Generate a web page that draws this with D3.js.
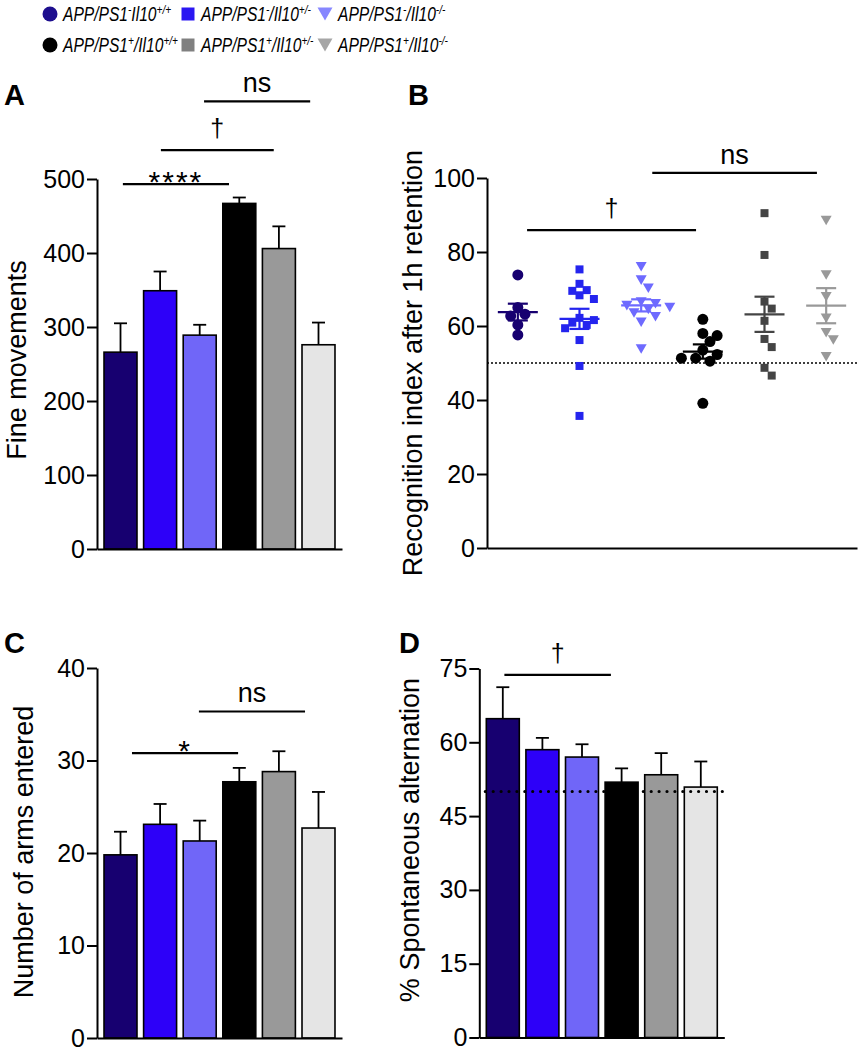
<!DOCTYPE html>
<html><head><meta charset="utf-8">
<script src="https://cdn.jsdelivr.net/npm/d3@7"></script>
<style>
body{margin:0;background:#fff;}
svg text{font-family:"Liberation Sans",Arial,Helvetica,sans-serif;fill:#000;}
</style></head><body>
<svg id="chart" width="860" height="1050"></svg>
<script>
// ---------------- data ----------------
const groups = ["APP/PS1-/Il10+/+","APP/PS1-/Il10+/-","APP/PS1-/Il10-/-","APP/PS1+/Il10+/+","APP/PS1+/Il10+/-","APP/PS1+/Il10-/-"];
const legendLabels = [
  [["APP/PS1",0],["-",1],["Il10",0],["+/+",1]],
  [["APP/PS1",0],["-",1],["/Il10",0],["+/-",1]],
  [["APP/PS1",0],["-",1],["/Il10",0],["-/-",1]],
  [["APP/PS1",0],["+",1],["/Il10",0],["+/+",1]],
  [["APP/PS1",0],["+",1],["/Il10",0],["+/-",1]],
  [["APP/PS1",0],["+",1],["/Il10",0],["-/-",1]]
];
const barColors = ["#170070","#2d00f8","#7066f8","#000000","#999999","#e5e5e5"];
const pointColors = ["#170070","#2424ee","#6e6aff","#000000","#444444","#999999"];
const legendColors = ["#1d0e8e","#2b17f2","#8787ff","#000000","#808080","#a6a6a6"];
const shapes = ["circle","square","triangle","circle","square","triangle"];

const fineMovements = [266, 349, 289, 467, 406, 276];
const fineMovementsSEM = [39, 26, 14, 8, 30, 30];
const fineTicks = [0,100,200,300,400,500];

const recognition = [
  [73.8, 65.0, 63.2, 62.7, 60.3, 57.6],
  [75.3, 71.4, 69.7, 69.5, 68.3, 67.3, 62.2, 61.6, 60.9, 60.3, 59.4, 56.2, 49.2, 35.7],
  [76.0, 72.4, 70.2, 66.5, 66.0, 65.5, 65.0, 64.5, 63.5, 62.5, 61.0, 53.8],
  [61.8, 58.0, 57.4, 55.8, 53.5, 52.3, 51.3, 51.3, 50.5, 39.1],
  [90.5, 79.2, 66.6, 64.7, 61.4, 56.5, 54.3, 48.7, 46.6],
  [88.5, 73.8, 67.9, 62.1, 58.2, 56.2, 51.7]
];
const recogTicks = [0,20,40,60,80,100];

const armsEntered = [19.8, 23.1, 21.3, 27.7, 28.8, 22.7];
const armsSEM = [2.5, 2.2, 2.2, 1.5, 2.2, 3.9];
const armsTicks = [0,10,20,30,40];

const alternation = [64.8, 58.5, 57.0, 51.9, 53.4, 50.9];
const alternationSEM = [6.4, 2.4, 2.6, 2.8, 4.4, 5.2];
const altTicks = [0,15,30,45,60,75];

// significance brackets: [from group pos, to group pos, value level, label]
const sigA = [[0.06,2.74,493,"****"],[1.02,3.87,539,"†"],[2.11,4.79,605,"ns"]];
const sigB = [[0.15,2.89,85.9,"†"],[2.18,4.85,101.4,"ns"]];
const sigC = [[0.29,2.97,30.8,"*"],[1.98,4.66,35.3,"ns"]];
const sigD = [[0.04,2.73,73.7,"†"]];

// ---------------- drawing ----------------
const svg = d3.select("#chart");

function symbolPath(shape, size){
  if(shape==="circle") return d3.symbol(d3.symbolCircle, Math.PI*size*size/4)();
  if(shape==="square") return d3.symbol(d3.symbolSquare, size*size)();
  const h = size*0.87, w = size;
  return `M${-w/2},${-h/2}L${w/2},${-h/2}L0,${h/2}Z`;
}

function yAxis(g, y, ticks, x0){
  const ax = g.append("g").attr("transform",`translate(${x0},0)`)
    .call(d3.axisLeft(y).tickValues(ticks).tickSize(10).tickSizeOuter(0).tickPadding(2));
  ax.select(".domain").attr("stroke","#000").attr("stroke-width",2);
  ax.selectAll(".tick line").attr("stroke","#000").attr("stroke-width",2);
  ax.selectAll(".tick text").attr("font-size",25).attr("fill","#000")
    .style("font-family","'Liberation Sans',Arial,sans-serif");
  return ax;
}
function xAxis(g, x, y0){
  const ax = g.append("g").attr("transform",`translate(0,${y0})`)
    .call(d3.axisBottom(x).tickSize(0).tickSizeOuter(0).tickFormat(""));
  ax.select(".domain").attr("stroke","#000").attr("stroke-width",2);
}
function title(g, text, x, yc){
  g.append("text").attr("transform",`translate(${x},${yc}) rotate(-90)`)
    .attr("text-anchor","middle").attr("font-size",27).text(text);
}
function panelLabel(g, text, x, y){
  g.append("text").attr("x",x).attr("y",y).attr("font-size",29).attr("font-weight","bold").text(text);
}
function sig(g, list, xPos, y){
  list.forEach(([a,b,lvl,lab])=>{
    const yy = y(lvl);
    g.append("line").attr("x1",xPos(a)).attr("x2",xPos(b)).attr("y1",yy).attr("y2",yy)
      .attr("stroke","#000").attr("stroke-width",2.2);
    const t = g.append("text").attr("x",(xPos(a)+xPos(b))/2).attr("text-anchor","middle");
    if(lab==="ns") t.attr("y",yy-9).attr("font-size",27).text(lab);
    else if(lab==="†") t.attr("y",yy-13).attr("font-size",25).text(lab);
    else t.attr("y",yy+8).attr("font-size",30).attr("letter-spacing",2).text(lab);
  });
}

function barPanel(cfg){
  const g = svg.append("g");
  const y = d3.scaleLinear().domain([0, cfg.ticks[cfg.ticks.length-1]]).range(cfg.yRange);
  const x = d3.scaleBand().domain(d3.range(6)).range(cfg.xRange).paddingInner(0.167).paddingOuter(0.177);
  const xPos = t => x(0) + x.bandwidth()/2 + t*x.step();
  const cap = 6.5;
  g.selectAll(".err").data(cfg.values).join("g").each(function(v,i){
    const cx = x(i)+x.bandwidth()/2, top = y(v+cfg.sem[i]);
    const e = d3.select(this);
    e.append("line").attr("x1",cx).attr("x2",cx).attr("y1",y(v)).attr("y2",top).attr("stroke","#000").attr("stroke-width",1.8);
    e.append("line").attr("x1",cx-cap).attr("x2",cx+cap).attr("y1",top).attr("y2",top).attr("stroke","#000").attr("stroke-width",1.8);
  });
  g.selectAll(".bar").data(cfg.values).join("rect")
    .attr("x",(d,i)=>x(i)).attr("width",x.bandwidth())
    .attr("y",d=>y(d)).attr("height",d=>y(0)-y(d))
    .attr("fill",(d,i)=>barColors[i]).attr("stroke","#000").attr("stroke-width",1.6);
  if(cfg.refLine!==undefined){
    g.append("line").attr("x1",x(0)-1).attr("x2",cfg.xRange[1]).attr("y1",y(cfg.refLine)).attr("y2",y(cfg.refLine))
      .attr("stroke","#000").attr("stroke-width",3.2).attr("stroke-dasharray","0,7.9").attr("stroke-linecap","round");
  }
  yAxis(g, y, cfg.ticks, cfg.xRange[0]);
  xAxis(g, x, y(0));
  title(g, cfg.title, cfg.titleX, cfg.titleY);
  panelLabel(g, cfg.label, cfg.labelX, cfg.labelY);
  sig(g, cfg.sig, xPos, y);
}

barPanel({values:fineMovements, sem:fineMovementsSEM, ticks:fineTicks, yRange:[549,179], xRange:[97,342],
  title:"Fine movements", titleX:26, titleY:360, label:"A", labelX:4, labelY:105, sig:sigA});
barPanel({values:armsEntered, sem:armsSEM, ticks:armsTicks, yRange:[1038,668], xRange:[97,342],
  title:"Number of arms entered", titleX:33, titleY:852, label:"C", labelX:4, labelY:653, sig:sigC});
barPanel({values:alternation, sem:alternationSEM, ticks:altTicks, yRange:[1037.5,668.5], xRange:[479.3,724.3],
  title:"% Spontaneous alternation", titleX:419, titleY:840, label:"D", labelX:399, labelY:653, sig:sigD, refLine:50});

// ---- Panel B: scatter with mean ± SEM ----
(function(){
  const g = svg.append("g");
  const y = d3.scaleLinear().domain([0,100]).range([548,178]);
  const x = d3.scaleBand().domain(d3.range(6)).range([487,857]).padding(0);
  const xPos = t => x(0) + x.bandwidth()/2 + t*x.step();
  const sizes = {circle:11, square:8, triangle:11};
  g.append("line").attr("x1",487).attr("x2",857).attr("y1",y(50)).attr("y2",y(50))
    .attr("stroke","#000").attr("stroke-width",1.6).attr("stroke-dasharray","2,2");
  recognition.forEach((vals,i)=>{
    const cx = x(i)+x.bandwidth()/2;
    const shape = shapes[i], s = sizes[shape];
    const placed = [];
    const sorted = vals.slice().sort((a,b)=>b-a);
    const minD = shape==="square" ? s*1.05 : s*0.8, step = shape==="square" ? s*0.9 : s*0.65;
    sorted.forEach(v=>{
      const py = y(v);
      let off = 0;
      for(let k=0;k<40;k++){
        const cand = k===0?0:(k%2? Math.ceil(k/2)*step : -Math.ceil(k/2)*step);
        const ok = placed.every(p=>Math.hypot(p.x-(cx+cand), p.y-py) >= minD);
        if(ok){off=cand;break;}
      }
      placed.push({x:cx+off, y:py, v});
    });
    g.selectAll(null).data(placed).join("path")
      .attr("d",symbolPath(shape,s))
      .attr("transform",d=>`translate(${d.x},${d.y})`)
      .attr("fill",pointColors[i]);
    const m = d3.mean(vals), se = d3.deviation(vals)/Math.sqrt(vals.length);
    const col = pointColors[i];
    const lw = 2.2;
    g.append("line").attr("x1",cx-20).attr("x2",cx+20).attr("y1",y(m)).attr("y2",y(m)).attr("stroke",col).attr("stroke-width",lw);
    g.append("line").attr("x1",cx).attr("x2",cx).attr("y1",y(m-se)).attr("y2",y(m+se)).attr("stroke",col).attr("stroke-width",lw);
    [m-se,m+se].forEach(v=>g.append("line").attr("x1",cx-10).attr("x2",cx+10).attr("y1",y(v)).attr("y2",y(v)).attr("stroke",col).attr("stroke-width",lw));
  });
  yAxis(g, y, recogTicks, 487);
  xAxis(g, x, y(0));
  title(g, "Recognition index after 1h retention", 422, 363);
  panelLabel(g, "B", 408, 105);
  sig(g, sigB, xPos, y);
})();

// ---- Legend ----
(function(){
  const g = svg.append("g");
  const colX = [50,188,325], rowY = [14,45];
  groups.forEach((name,i)=>{
    const r = Math.floor(i/3), c = i%3;
    const mx = colX[c], my = rowY[r];
    const shape = shapes[i];
    const sz = shape==="circle"?15:(shape==="square"?13:15);
    g.append("path").attr("d",symbolPath(shape,sz)).attr("transform",`translate(${mx},${my})`).attr("fill",legendColors[i]);
    const t = g.append("text").attr("transform",`translate(${mx+13},${my+7}) scale(0.78,1)`)
      .attr("font-size",20).attr("font-style","italic");
    let shift = 0;
    legendLabels[i].forEach(([txt,sup])=>{
      const want = sup ? -7 : 0;
      t.append("tspan").attr("dy",want-shift).attr("font-size",sup?13:20).text(txt);
      shift = want;
    });
  });
})();
</script>
</body></html>
